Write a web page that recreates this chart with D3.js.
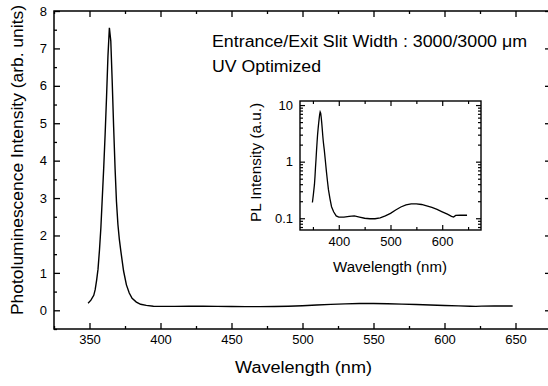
<!DOCTYPE html>
<html>
<head>
<meta charset="utf-8">
<script src="https://cdn.jsdelivr.net/npm/d3@7"></script>
<style>
  body { margin: 0; background: #fff; }
  svg { display: block; font-family: "Liberation Sans", Arial, Helvetica, sans-serif; }
  .tick text { fill: #000; }
</style>
</head>
<body>
<svg id="chart" width="548" height="386"></svg>
<script>
// spectrum (wavelength in nm, intensity in arb. units)
const wavelength = [349, 351, 353, 354, 355, 356, 357, 358, 359, 360, 361, 362, 363, 364, 365, 366,
  367, 368, 369, 370, 371, 372, 374, 376, 378, 380, 383, 386, 390, 395,
  400, 410, 420, 430, 440, 450, 460, 470, 480, 490, 500, 510, 520, 530, 540, 550,
  560, 570, 580, 590, 600, 610, 618, 622, 626, 635, 648];
const intensity = [0.19, 0.27, 0.4, 0.55, 0.8, 1.1, 1.6, 2.2, 3.0, 3.8, 4.7, 5.7, 6.8, 7.55, 7.2, 6.1,
  4.9, 3.8, 2.9, 2.3, 1.9, 1.6, 1.05, 0.68, 0.46, 0.32, 0.22, 0.16, 0.13, 0.11,
  0.105, 0.105, 0.108, 0.11, 0.105, 0.1, 0.098, 0.098, 0.102, 0.11, 0.122, 0.14, 0.158, 0.172, 0.18, 0.18,
  0.175, 0.165, 0.155, 0.143, 0.13, 0.118, 0.108, 0.105, 0.112, 0.113, 0.113];

const xMajor = [350, 400, 450, 500, 550, 600, 650];
const xMinor = [325, 375, 425, 475, 525, 575, 625, 675];
const yMajor = [0, 1, 2, 3, 4, 5, 6, 7, 8];
const yMinor = [-0.5, 0.5, 1.5, 2.5, 3.5, 4.5, 5.5, 6.5, 7.5];

const insetXMajor = [400, 500, 600];
const insetXMinor = [350, 450, 550, 650];
const insetYMajor = [0.1, 1, 10];
const insetYMinor = [0.07, 0.08, 0.09, 0.2, 0.3, 0.4, 0.5, 0.6, 0.7, 0.8, 0.9,
  2, 3, 4, 5, 6, 7, 8, 9];

const data = wavelength.map((w, i) => ({w: w, v: intensity[i]}));

const svg = d3.select('svg#chart');

// main plot area
const box = {left: 54, top: 11, right: 551, bottom: 329};

const x = d3.scaleLinear().domain([325, 675]).range([box.left, box.right]);
const y = d3.scaleLinear().domain([-0.5, 8]).range([box.bottom, box.top]);

function drawAxes(g, xs, ys, b, opt) {
  const fs = opt.fontSize;
  // bottom
  g.append('g').attr('transform', `translate(0,${b.bottom})`)
    .call(d3.axisBottom(xs).tickValues(opt.xMajor).tickSizeInner(-opt.major).tickSizeOuter(0).tickPadding(opt.xPad))
    .call(a => a.selectAll('text').style('font-size', fs + 'px'));
  g.append('g').attr('transform', `translate(0,${b.bottom})`)
    .call(d3.axisBottom(xs).tickValues(opt.xMinor).tickSizeInner(-opt.minor).tickSizeOuter(0).tickFormat(''));
  // top
  g.append('g').attr('transform', `translate(0,${b.top})`)
    .call(d3.axisTop(xs).tickValues(opt.xMajor).tickSizeInner(-opt.major).tickSizeOuter(0).tickFormat(''));
  g.append('g').attr('transform', `translate(0,${b.top})`)
    .call(d3.axisTop(xs).tickValues(opt.xMinor).tickSizeInner(-opt.minor).tickSizeOuter(0).tickFormat(''));
  // left
  g.append('g').attr('transform', `translate(${b.left},0)`)
    .call(d3.axisLeft(ys).tickValues(opt.yMajor).tickSizeInner(-opt.major).tickSizeOuter(0).tickPadding(opt.yPad).tickFormat(opt.yFormat))
    .call(a => a.selectAll('text').style('font-size', fs + 'px'));
  g.append('g').attr('transform', `translate(${b.left},0)`)
    .call(d3.axisLeft(ys).tickValues(opt.yMinor).tickSizeInner(-opt.minor).tickSizeOuter(0).tickFormat(''));
  // right
  g.append('g').attr('transform', `translate(${b.right},0)`)
    .call(d3.axisRight(ys).tickValues(opt.yMajor).tickSizeInner(-opt.major).tickSizeOuter(0).tickFormat(''));
  g.append('g').attr('transform', `translate(${b.right},0)`)
    .call(d3.axisRight(ys).tickValues(opt.yMinor).tickSizeInner(-opt.minor).tickSizeOuter(0).tickFormat(''));

  g.selectAll('.domain').remove();
  g.selectAll('.tick line').attr('stroke', '#000').attr('stroke-width', opt.tickWidth);
  g.selectAll('.tick text').attr('font-family', null);

  g.append('rect')
    .attr('x', b.left).attr('y', b.top)
    .attr('width', b.right - b.left).attr('height', b.bottom - b.top)
    .attr('fill', 'none').attr('stroke', '#000').attr('stroke-width', opt.frameWidth);
}

// text stretched to the width measured on the picture
function label(g, txt, size, len, attrs) {
  const t = g.append('text')
    .style('font-size', size + 'px')
    .attr('textLength', len)
    .attr('lengthAdjust', 'spacingAndGlyphs')
    .text(txt);
  Object.keys(attrs).forEach(k => t.attr(k, attrs[k]));
  return t;
}

const main = svg.append('g');
drawAxes(main, x, y, box, {
  xMajor: xMajor, xMinor: xMinor, yMajor: yMajor, yMinor: yMinor,
  major: 6, minor: 3, xPad: 6, yPad: 7, fontSize: 13,
  yFormat: d3.format('d'), tickWidth: 1.3, frameWidth: 1.5
});

main.append('path')
  .datum(data)
  .attr('fill', 'none')
  .attr('stroke', '#000')
  .attr('stroke-width', 1.4)
  .attr('d', d3.line().x(d => x(d.w)).y(d => y(d.v)));

label(main, 'Wavelength (nm)', 16, 137, {x: 235, y: 373});
label(main, 'Photoluminescence Intensity (arb. units)', 16, 310,
  {transform: 'translate(23,315) rotate(-90)'});
label(main, 'Entrance/Exit Slit Width : 3000/3000 \u03bcm', 16, 315, {x: 212, y: 47});
label(main, 'UV Optimized', 16, 109, {x: 212, y: 72});

// inset, log scale
const ibox = {left: 300, top: 101, right: 481, bottom: 230};
const xi = d3.scaleLinear().domain([325, 675]).range([ibox.left, ibox.right]);
const yi = d3.scaleLog().domain([0.062, 11.8]).range([ibox.bottom, ibox.top]);

const inset = svg.append('g');
drawAxes(inset, xi, yi, ibox, {
  xMajor: insetXMajor, xMinor: insetXMinor, yMajor: insetYMajor, yMinor: insetYMinor,
  major: 5, minor: 3, xPad: 7, yPad: 7, fontSize: 13,
  yFormat: d => d < 1 ? d3.format('.1f')(d) : d3.format('d')(d), tickWidth: 1.2, frameWidth: 1.4
});

inset.append('path')
  .datum(data)
  .attr('fill', 'none')
  .attr('stroke', '#000')
  .attr('stroke-width', 1.3)
  .attr('d', d3.line().x(d => xi(d.w)).y(d => yi(d.v)));

label(inset, 'Wavelength (nm)', 14, 114, {x: 333, y: 272});
label(inset, 'PL Intensity (a.u.)', 14, 119, {transform: 'translate(261,222) rotate(-90)'});
</script>
</body>
</html>
